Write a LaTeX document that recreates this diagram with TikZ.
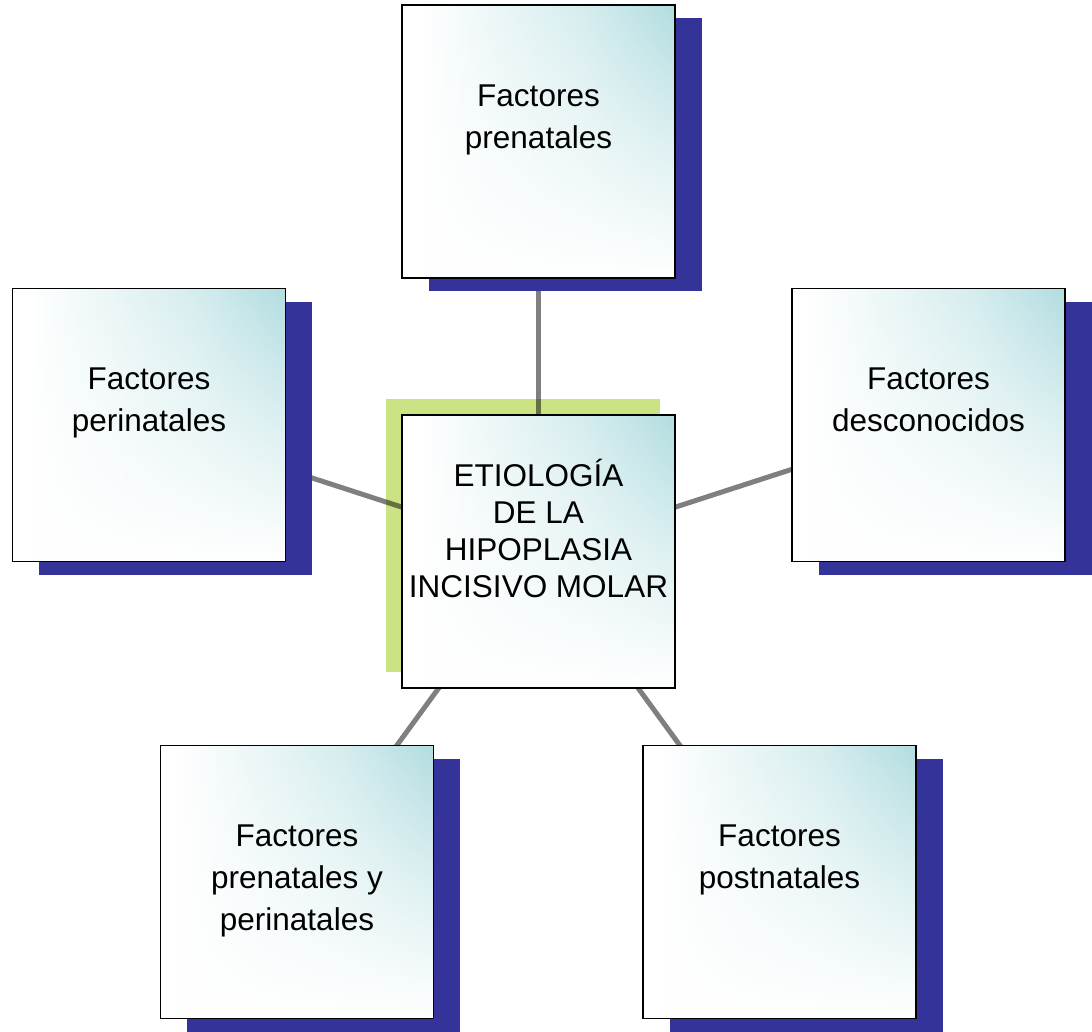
\documentclass[tikz,border=0pt]{standalone}
\usepackage{fontspec}
\setmainfont{Liberation Sans}
\usetikzlibrary{shadows,fadings}
\pgfdeclarelayer{background}
\pgfdeclarelayer{mid}
\pgfsetlayers{background,mid,main}
\definecolor{tealc}{RGB}{180,222,225}
\definecolor{shadowblue}{RGB}{51,51,153}
\definecolor{greenc}{RGB}{204,227,132}
\pgfdeclarehorizontalshading{tealh}{100bp}{color(0bp)=(white); color(28bp)=(white); color(58bp)=(tealc!55!white); color(74bp)=(tealc); color(100bp)=(tealc)}
\tikzfading[name=fadedown, top color=transparent!0, bottom color=transparent!100, middle color=transparent!55]
\tikzset{
  plainbox/.style={rectangle, minimum width=273pt, minimum height=273pt, inner sep=0pt,
    draw=black, line width=1.5pt, fill=white,
    path picture={\shade[shading=tealh, path fading=fadedown]
      (path picture bounding box.south west) rectangle (path picture bounding box.north east);}},
  box/.style={plainbox,
    general shadow={shadow xshift=26.5pt, shadow yshift=-13.5pt, fill=shadowblue}},
  greenbox/.style={rectangle, minimum width=274pt, minimum height=273pt, inner sep=0pt, fill=greenc},
  txt/.style={anchor=north, align=center, font=\fontsize{31.5pt}{42pt}\selectfont, inner sep=0pt},
  ctxt/.style={anchor=north, align=center, font=\fontsize{31.5pt}{37pt}\selectfont, inner sep=0pt},
  link/.style={line width=5pt, draw=black, draw opacity=0.5}
}
\begin{document}
\begin{tikzpicture}[x=1pt, y=-1pt]
\useasboundingbox (0,0) rectangle (1092,1032);
\begin{pgfonlayer}{background}
\node[greenbox] (g) at (523,535.5) {};
\end{pgfonlayer}
\node[box] (top) at (538.5,141.5) {};
\node[box] (left) at (149,425) {};
\node[box] (right) at (928.5,425) {};
\node[box] (bl) at (297,882) {};
\node[box] (br) at (779.5,882) {};
\node[plainbox] (c) at (538.5,551.5) {};
\node[txt] (ttop) at ([yshift=-80pt]top.north) {Factores\\prenatales};
\node[txt] (tleft) at ([yshift=-80pt]left.north) {Factores\\perinatales};
\node[txt] (tright) at ([yshift=-80pt]right.north) {Factores\\desconocidos};
\node[txt] (tbl) at ([yshift=-80pt]bl.north) {Factores\\prenatales y\\perinatales};
\node[txt] (tbr) at ([yshift=-80pt]br.north) {Factores\\postnatales};
\node[ctxt] (tc) at ([yshift=-45pt]c.north) {ETIOLOGÍA\\DE LA\\HIPOPLASIA\\INCISIVO MOLAR};
\begin{pgfonlayer}{mid}
\draw[link] (c.center) -- (top.center);
\draw[link] (c.center) -- (left.center);
\draw[link] (c.center) -- (right.center);
\draw[link] (c.center) -- (bl.center);
\draw[link] (c.center) -- (br.center);
\end{pgfonlayer}
\end{tikzpicture}
\end{document}
